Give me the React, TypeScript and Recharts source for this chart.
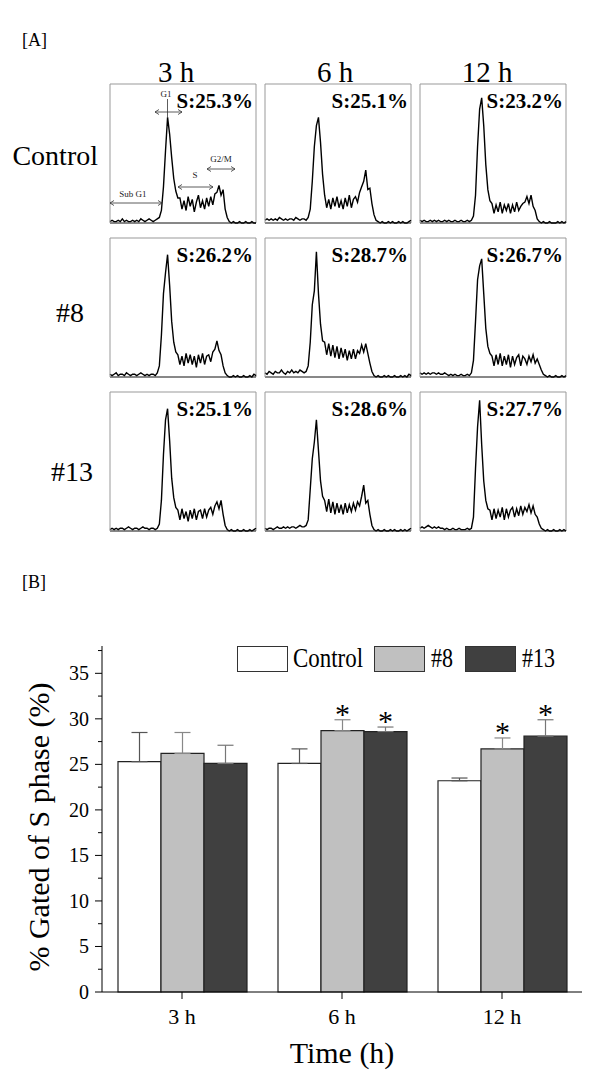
import React from 'react';
import {
    LineChart,
    Line,
    XAxis,
    YAxis,
    ReferenceLine,
    BarChart,
    Bar,
    ErrorBar,
    LabelList,
} from 'recharts';

const FONT = "'Liberation Serif', 'Times New Roman', Times, serif";

// ---------- [A] DNA histograms, counts as % of panel height, 72 channels ----------
const control3h = [1, 2, 1, 1, 2, 1, 3, 1, 2, 1, 1, 2, 1, 2, 1, 3, 2, 1, 2, 3, 2, 1, 2, 3,
    4, 9, 26, 52, 76, 64, 47, 32, 23, 18,
    18, 10, 16, 9, 19, 12, 17, 8, 15, 20, 11, 16, 10, 18, 12, 19, 13, 21,
    22, 27, 20, 24, 10, 4, 1,
    0, 1, 0, 0, 1, 0, 0, 1, 0, 0, 1, 0, 0];
const control6h = [2, 3, 2, 3, 2, 3, 2, 4, 3, 2, 3, 2, 3, 3, 2, 4, 3, 2, 3, 3, 2,
    4, 10, 30, 55, 70, 76, 58, 35,
    20, 11, 17, 10, 18, 12, 19, 11, 16, 10, 18, 12, 20, 11, 17, 19, 15,
    22, 26, 30, 38, 24, 25, 14, 6,
    2, 1, 0, 1, 0, 0, 1, 0, 1, 0, 0, 1, 0, 1, 0, 0, 1, 2];
const control12h = [2, 1, 2, 1, 1, 2, 1, 2, 1, 2, 1, 1, 2, 1, 2, 1, 1, 2, 1, 1, 2, 1, 1, 2, 1, 2,
    5, 20, 55, 82, 90, 70, 42, 24, 16,
    14, 7, 13, 8, 15, 7, 13, 9, 14, 7, 13, 8, 15, 9, 12, 14,
    15, 19, 14, 20, 12, 9, 3, 1,
    0, 1, 0, 0, 1, 0, 0, 0, 1, 0, 1, 0, 1];
const n8_3h = [2, 1, 2, 3, 1, 2, 2, 1, 3, 2, 1, 2, 2, 1, 2, 3, 2, 1, 2, 1, 2, 2, 1,
    3, 8, 30, 60, 75, 88, 66, 40, 25, 18,
    16, 9, 15, 8, 17, 10, 16, 9, 15, 7, 16, 10, 17, 9, 15, 16, 11, 18,
    20, 26, 19, 16, 8, 3, 1,
    0, 0, 1, 0, 1, 0, 0, 1, 0, 0, 1, 0, 2, 1];
const n8_6h = [3, 2, 4, 3, 2, 4, 3, 3, 5, 3, 2, 4, 3, 5, 3, 4, 3, 5, 4, 3, 4,
    8, 25, 52, 62, 90, 60, 38, 26,
    25, 16, 24, 15, 23, 14, 22, 13, 21, 14, 20, 12, 19, 13, 20, 13, 19,
    17, 23, 18, 24, 17, 10, 4, 1,
    0, 1, 0, 0, 1, 0, 1, 0, 0, 1, 0, 0, 1, 0, 1, 0, 2, 1];
const n8_12h = [3, 2, 3, 2, 3, 2, 3, 3, 2, 3, 2, 2, 3, 2, 1, 2, 1, 2, 1, 1, 2, 1, 1, 2, 1,
    3, 12, 40, 70, 80, 85, 60, 35, 22, 17,
    15, 8, 16, 9, 17, 8, 15, 9, 16, 7, 15, 9, 14, 16, 8, 15, 13, 9,
    15, 11, 16, 10, 13, 9, 5, 2, 1,
    0, 1, 0, 0, 1, 0, 0, 1, 0, 1];
const n13_3h = [1, 2, 1, 2, 1, 2, 2, 1, 2, 3, 2, 1, 2, 2, 1, 2, 3, 2, 2, 1, 2, 2, 1, 2,
    5, 22, 55, 80, 88, 65, 38, 24, 17,
    15, 8, 16, 9, 14, 7, 15, 9, 16, 8, 14, 15, 9, 16, 10, 15, 17, 12,
    18, 21, 16, 22, 12, 4, 1,
    0, 1, 0, 0, 1, 0, 0, 1, 0, 0, 1, 0, 1, 2];
const n13_6h = [2, 1, 2, 2, 1, 2, 3, 2, 2, 3, 2, 3, 2, 3, 3, 2, 3, 4, 3, 3, 4,
    8, 30, 52, 64, 80, 58, 36, 25,
    22, 14, 23, 13, 21, 12, 20, 13, 19, 12, 20, 13, 19, 14, 20, 15, 21,
    18, 25, 33, 20, 22, 12, 4, 1,
    0, 1, 0, 0, 1, 0, 0, 1, 0, 1, 0, 0, 1, 0, 1, 0, 1, 2];
const n13_12h = [2, 3, 2, 3, 4, 3, 2, 3, 2, 3, 2, 2, 1, 2, 1, 1, 2, 1, 1, 2, 1, 1, 1, 2, 1, 2,
    10, 45, 75, 94, 62, 36, 22, 16,
    15, 8, 16, 9, 15, 10, 17, 8, 16, 10, 15, 17, 10, 16, 11, 18, 12, 17,
    14, 19, 13, 18, 12, 10, 5, 2, 1,
    0, 1, 0, 0, 1, 0, 0, 1, 0, 1, 0];

const histograms = [
    [control3h, control6h, control12h],
    [n8_3h, n8_6h, n8_12h],
    [n13_3h, n13_6h, n13_12h],
];
const sPhaseLabels = [
    ['S:25.3%', 'S:25.1%', 'S:23.2%'],
    ['S:26.2%', 'S:28.7%', 'S:26.7%'],
    ['S:25.1%', 'S:28.6%', 'S:27.7%'],
];
const histXTicks = [0, 4, 9, 13, 18, 22, 27, 31, 36, 40, 44, 49, 53, 58, 62, 67, 71];
const histYTicks = [0, 25, 50, 75, 100];

// ---------- [B] bar chart ----------
const timeLabels = ['3 h', '6 h', '12 h'];
const controlMean = [25.3, 25.1, 23.2];
const controlErr = [3.2, 1.6, 0.3];
const n8Mean = [26.2, 28.7, 26.7];
const n8Err = [2.3, 1.2, 1.2];
const n13Mean = [25.1, 28.6, 28.1];
const n13Err = [2.0, 0.5, 1.8];
const sig8 = ['', '*', '*'];
const sig13 = ['', '*', '*'];
const barYTicks = [0, 2.5, 5, 7.5, 10, 12.5, 15, 17.5, 20, 22.5, 25, 27.5, 30, 32.5, 35, 37.5];

const colLefts = [110, 265, 420];
const rowTops = [84, 238, 392];

function Arrow({ x1, x2, y }: { x1: number; x2: number; y: number }) {
    return (
        <g stroke="#333" strokeWidth={0.8} fill="none">
            <line x1={x1} x2={x2} y1={y} y2={y} />
            <path d={`M${x1 + 4},${y - 2.5} L${x1},${y} L${x1 + 4},${y + 2.5}`} />
            <path d={`M${x2 - 4},${y - 2.5} L${x2},${y} L${x2 - 4},${y + 2.5}`} />
        </g>
    );
}

// phase gates drawn on the first control panel
function PhaseNotes() {
    const t = { fontFamily: FONT, fontSize: 9, fill: '#222', textAnchor: 'middle' as const };
    return (
        <g>
            <text x={56} y={13} {...t}>G1</text>
            <line x1={57.5} x2={57.5} y1={15} y2={34} stroke="#333" strokeWidth={0.8} />
            <Arrow x1={45} x2={72} y={28} />
            <text x={23} y={113} {...t}>Sub G1</text>
            <Arrow x1={0} x2={52} y={119} />
            <text x={85} y={94} {...t}>S</text>
            <Arrow x1={68} x2={103} y={103} />
            <text x={111} y={78} {...t}>G2/M</text>
            <Arrow x1={97} x2={125} y={85} />
        </g>
    );
}

function Histo({ counts, label, left, top, notes }: { counts: number[]; label: string; left: number; top: number; notes?: boolean }) {
    const rows = counts.map((v, i) => ({ ch: i, v }));
    return (
        <div style={{ position: 'absolute', left: left - 4, top: top - 1 }}>
            <LineChart width={151} height={147} data={rows} margin={{ top: 1, right: 1, bottom: 1, left: 0 }}>
                <XAxis dataKey="ch" type="number" domain={[0, 71]} ticks={histXTicks} interval={0}
                    tick={false} tickSize={4} height={6} stroke="#111" />
                <YAxis type="number" domain={[0, 100]} ticks={histYTicks} interval={0}
                    tick={false} tickSize={3} width={4} stroke="#999" />
                <ReferenceLine y={100} stroke="#999" />
                <ReferenceLine x={71} stroke="#999" />
                <Line type="linear" dataKey="v" stroke="#000" strokeWidth={1.4} dot={false} isAnimationActive={false} />
            </LineChart>
            <svg width={146} height={139} style={{ position: 'absolute', left: 4, top: 1, overflow: 'visible', pointerEvents: 'none' }}>
                <text x={143} y={24} textAnchor="end" style={{ fontFamily: FONT }} fontWeight="bold" fontSize={21} fill="#000">{label}</text>
                {notes && <PhaseNotes />}
            </svg>
        </div>
    );
}

function YTick(props: any) {
    const { x, y, payload } = props;
    const major = payload.value % 5 === 0;
    const axisX = x + 13;
    return (
        <g>
            <line x1={axisX} x2={axisX - (major ? 7 : 4)} y1={y} y2={y} stroke="#000" />
            {major && (
                <text x={x} y={y} dy="0.35em" textAnchor="end" fontSize={20} style={{ fontFamily: FONT }} fill="#000">
                    {payload.value}
                </text>
            )}
        </g>
    );
}

const starContent = (means: number[], errs: number[]) => (props: any) => {
    const { index, value } = props;
    const vb = props.viewBox ?? props;
    if (!value || index === undefined) return null;
    const unit = vb.height / means[index];
    const errTop = vb.y - errs[index] * unit;
    return (
        <text x={vb.x + vb.width / 2} y={errTop + 4} textAnchor="middle" fontSize={30} style={{ fontFamily: FONT }} fill="#000">
            {value}
        </text>
    );
};

const yTitle = (props: any) => {
    const vb = props.viewBox;
    const cx = vb.x + 38;
    const cy = vb.y + vb.height / 2 + 8;
    return (
        <text x={cx} y={cy} transform={`rotate(-90 ${cx} ${cy})`} textAnchor="middle" dominantBaseline="central"
            fontSize={30} style={{ fontFamily: FONT }} fill="#000">
            % Gated of S phase (%)
        </text>
    );
};

export default function App() {
    const barRows = timeLabels.map((t, i) => ({
        t,
        c: controlMean[i],
        cE: [0, controlErr[i]],
        n8: n8Mean[i],
        n8E: [0, n8Err[i]],
        n13: n13Mean[i],
        n13E: [0, n13Err[i]],
        s8: sig8[i],
        s13: sig13[i],
    }));

    return (
        <div style={{ position: 'relative', width: 600, height: 1078, margin: -8, background: '#fff', fontFamily: FONT }}>
            {histograms.map((row, r) =>
                row.map((counts, c) => (
                    <Histo key={`${r}-${c}`} counts={counts} label={sPhaseLabels[r][c]}
                        left={colLefts[c]} top={rowTops[r]} notes={r === 0 && c === 0} />
                ))
            )}

            <div style={{ position: 'absolute', left: 0, top: 590 }}>
                <BarChart width={600} height={488} data={barRows} margin={{ top: 56, right: 18, bottom: 6, left: 0 }}
                    barCategoryGap="10%" barGap={0}>
                    <XAxis dataKey="t" height={80} tickSize={7} tickMargin={9} stroke="#000"
                        tick={{ fill: '#000', fontSize: 22, fontFamily: FONT }}
                        label={{ value: 'Time (h)', position: 'insideBottom', offset: 9, fontSize: 30, fontFamily: FONT, fill: '#000' }} />
                    <YAxis type="number" domain={[0, 38]} ticks={barYTicks} interval={0} width={102}
                        tickSize={7} tickMargin={6} tickLine={false} tick={(p: any) => <YTick {...p} />}
                        stroke="#000" label={yTitle} />
                    <Bar dataKey="c" fill="#ffffff" stroke="#222" strokeWidth={1.2} isAnimationActive={false}>
                        <ErrorBar dataKey="cE" width={8} stroke="#555" strokeWidth={1.2} direction="y" />
                    </Bar>
                    <Bar dataKey="n8" fill="#c0c0c0" stroke="#222" strokeWidth={1.2} isAnimationActive={false}>
                        <ErrorBar dataKey="n8E" width={8} stroke="#888" strokeWidth={1.2} direction="y" />
                        <LabelList dataKey="s8" content={starContent(n8Mean, n8Err)} />
                    </Bar>
                    <Bar dataKey="n13" fill="#404040" stroke="#222" strokeWidth={1.2} isAnimationActive={false}>
                        <ErrorBar dataKey="n13E" width={8} stroke="#777" strokeWidth={1.2} direction="y" />
                        <LabelList dataKey="s13" content={starContent(n13Mean, n13Err)} />
                    </Bar>
                </BarChart>
            </div>

            <svg width={600} height={1078} style={{ position: 'absolute', left: 0, top: 0, pointerEvents: 'none', fontFamily: FONT }}>
                <g fill="#000">
                    <text x={22} y={46} fontSize={18}>[A]</text>
                    <text x={176} y={82} fontSize={29} textAnchor="middle">3 h</text>
                    <text x={335} y={82} fontSize={29} textAnchor="middle">6 h</text>
                    <text x={487} y={82} fontSize={29} textAnchor="middle">12 h</text>
                    <text x={98} y={165} fontSize={28} textAnchor="end">Control</text>
                    <text x={70} y={322} fontSize={28} textAnchor="middle">#8</text>
                    <text x={72} y={481} fontSize={28} textAnchor="middle">#13</text>
                    <text x={22} y={588} fontSize={18}>[B]</text>

                    <rect x={237.5} y={646.5} width={50} height={25} fill="#fff" stroke="#333" />
                    <text x={293} y={667} fontSize={28} textLength={70} lengthAdjust="spacingAndGlyphs">Control</text>
                    <rect x={374.5} y={646.5} width={50} height={25} fill="#c0c0c0" stroke="#333" />
                    <text x={431} y={667} fontSize={28} textLength={22} lengthAdjust="spacingAndGlyphs">#8</text>
                    <rect x={465.5} y={646.5} width={50} height={25} fill="#404040" stroke="#333" />
                    <text x={522} y={667} fontSize={28} textLength={33} lengthAdjust="spacingAndGlyphs">#13</text>
                </g>
            </svg>
        </div>
    );
}
